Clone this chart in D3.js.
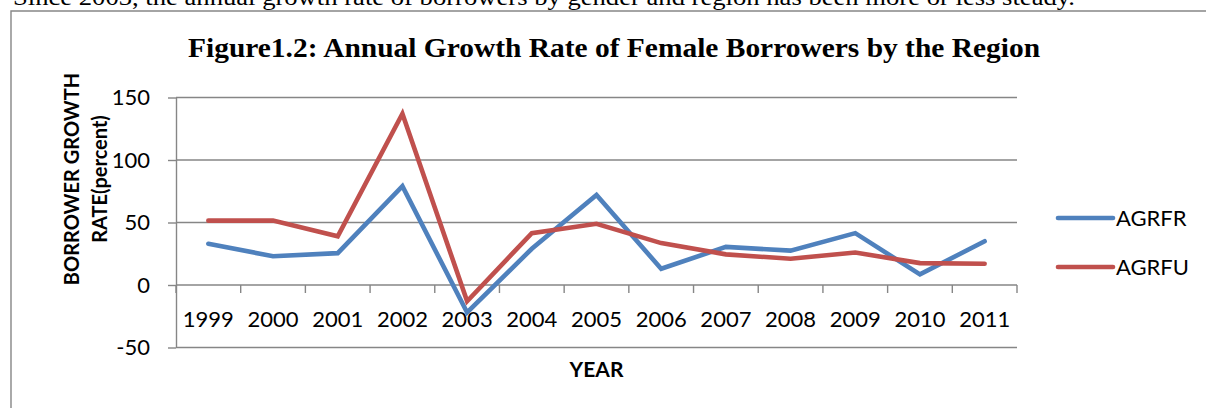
<!DOCTYPE html>
<html>
<head>
<meta charset="utf-8">
<script src="https://cdn.jsdelivr.net/npm/d3@7"></script>
<style>
  html, body { margin: 0; padding: 0; background: #fff; }
  svg { display: block; }
</style>
</head>
<body>
<svg id="chart" width="1206" height="408"></svg>
<script>
// Years on the category axis
const years = ["1999","2000","2001","2002","2003","2004","2005","2006","2007","2008","2009","2010","2011"];
// Annual growth rate of female borrowers, rural (AGRFR) and urban (AGRFU), percent
const agrfr = [33, 23, 25.5, 79, -22, 29, 72, 13, 30.5, 27.5, 41.5, 8.5, 35];
const agrfu = [51.5, 51.5, 39, 137, -13, 41.5, 49, 33.5, 24.5, 21, 26, 17.5, 17];
const seriesNames = ["AGRFR", "AGRFU"];
const seriesColors = ["#4F81BD", "#C0504D"];
const yTicks = [-50, 0, 50, 100, 150];

const svg = d3.select("#chart");
const gridColor = "#868686";
const chartFont = "Lato, 'Open Sans', sans-serif";
const serifFont = "'Liberation Serif', 'Times New Roman', serif";

// Surrounding paragraph text (the line above the figure) and the figure frame
svg.append("text")
  .attr("x", 13).attr("y", 5)
  .attr("font-family", serifFont)
  .attr("font-size", 24)
  .attr("textLength", 1062)
  .attr("lengthAdjust", "spacingAndGlyphs")
  .text("Since 2003, the annual growth rate of borrowers by gender and region has been more or less steady.");

svg.append("path")
  .attr("d", "M11,408 V11 H1206")
  .attr("fill", "none")
  .attr("stroke", gridColor)
  .attr("stroke-width", 1.4);

// Title
svg.append("text")
  .attr("x", 188).attr("y", 57)
  .attr("font-family", serifFont)
  .attr("font-weight", "bold")
  .attr("font-size", 28)
  .attr("textLength", 852)
  .attr("lengthAdjust", "spacingAndGlyphs")
  .text("Figure1.2: Annual Growth Rate of Female Borrowers by the Region");

// Scales
const x = d3.scaleBand().domain(years).range([176, 1017]).padding(0);
const y = d3.scaleLinear().domain([-50, 150]).range([347.5, 97.5]);
const cx = d => x(d) + x.bandwidth() / 2;

// Horizontal gridlines
svg.append("g")
  .selectAll("line")
  .data(yTicks)
  .join("line")
  .attr("x1", 176).attr("x2", 1017)
  .attr("y1", d => y(d)).attr("y2", d => y(d))
  .attr("stroke", gridColor)
  .attr("stroke-width", 1.4);

// Y axis (plain hyphen for negative numbers)
const yAxis = svg.append("g")
  .attr("transform", "translate(176,0)")
  .call(d3.axisLeft(y).tickValues(yTicks).tickFormat(d => String(d))
    .tickSize(8).tickPadding(18).tickSizeOuter(0));
yAxis.select(".domain").attr("stroke", gridColor).attr("stroke-width", 1.4);
yAxis.selectAll(".tick line").attr("stroke", gridColor).attr("stroke-width", 1.4);
yAxis.selectAll(".tick text")
  .attr("font-family", chartFont)
  .attr("font-size", 22)
  .attr("fill", "#000");

// X axis: category labels, with tick marks at the band boundaries hanging from the zero line
const xAxis = svg.append("g")
  .attr("transform", `translate(0,${y(0)})`)
  .call(d3.axisBottom(x).tickSize(0).tickPadding(26));
xAxis.select(".domain").remove();
xAxis.selectAll(".tick text")
  .attr("font-family", chartFont)
  .attr("font-size", 22)
  .attr("fill", "#000");

const boundaries = years.map(d => x(d)).concat([x.range()[1]]);
svg.append("g")
  .selectAll("line")
  .data(boundaries)
  .join("line")
  .attr("x1", d => d).attr("x2", d => d)
  .attr("y1", y(0)).attr("y2", y(0) + 8)
  .attr("stroke", gridColor)
  .attr("stroke-width", 1.4);

// Axis titles
svg.append("text")
  .attr("x", (176 + 1017) / 2).attr("y", 377)
  .attr("text-anchor", "middle")
  .attr("font-family", chartFont)
  .attr("font-weight", "bold")
  .attr("font-size", 21)
  .text("YEAR");

const yTitle = svg.append("text")
  .attr("transform", "translate(0,179) rotate(-90)")
  .attr("text-anchor", "middle")
  .attr("font-family", chartFont)
  .attr("font-weight", "bold")
  .attr("font-size", 20);
yTitle.append("tspan").attr("x", 0).attr("y", 79).text("BORROWER GROWTH");
yTitle.append("tspan").attr("x", 0).attr("y", 107).text("RATE(percent)");

// Series lines
const line = d3.line()
  .x((d, i) => cx(years[i]))
  .y(d => y(d));

[agrfr, agrfu].forEach((vals, k) => {
  svg.append("path")
    .datum(vals)
    .attr("d", line)
    .attr("fill", "none")
    .attr("stroke", seriesColors[k])
    .attr("stroke-width", 4.6)
    .attr("stroke-linejoin", "miter")
    .attr("stroke-linecap", "round");
});

// Legend
const legendY = [218, 267];
const legend = svg.append("g")
  .selectAll("g")
  .data(seriesNames)
  .join("g")
  .attr("transform", (d, i) => `translate(0,${legendY[i]})`);
legend.append("line")
  .attr("x1", 1058).attr("x2", 1113)
  .attr("y1", 0).attr("y2", 0)
  .attr("stroke", (d, i) => seriesColors[i])
  .attr("stroke-width", 4.6)
  .attr("stroke-linecap", "round");
legend.append("text")
  .attr("x", 1116).attr("y", 8)
  .attr("font-family", chartFont)
  .attr("font-size", 22)
  .attr("fill", "#000")
  .text(d => d);
</script>
</body>
</html>
